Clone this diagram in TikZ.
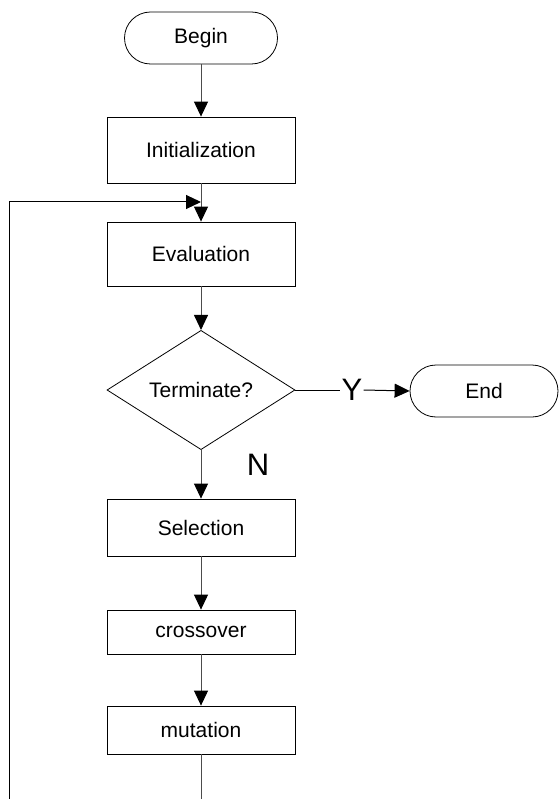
\documentclass[tikz,border=0pt]{standalone}
\usepackage{fontspec}
\setmainfont{Liberation Sans}
\usetikzlibrary{shapes.geometric,arrows.meta}
\begin{document}
\begin{tikzpicture}[x=1pt,y=-1pt,
  every node/.style={font=\fontsize{21}{25}\selectfont, text=black},
  procbox/.style={draw=black, line width=0.8pt, minimum width=188pt, minimum height=64pt, inner sep=0pt},
  termbox/.style={draw=black, line width=0.8pt, rounded corners=26pt, minimum height=52pt, inner sep=0pt},
  decbox/.style={draw=black, line width=0.8pt, diamond, minimum width=188pt, minimum height=112pt, inner sep=0pt},
  flow/.style={draw=black!70, line width=1pt, -{Triangle[length=15pt,width=14pt,color=black]}},
  plainline/.style={draw=black!70, line width=1pt},
  lbl/.style={font=\fontsize{31}{34}\selectfont}]
\useasboundingbox (0,0) rectangle (559,799);
\node[termbox, minimum width=153pt] (begin) at (201,38) {Begin};
\node[procbox, minimum height=66pt] (init) at (201,150) {Initialization};
\node[procbox] (eval) at (201,254) {Evaluation};
\node[decbox] (term) at (201,390) {Terminate?};
\node[termbox, minimum width=148pt] (end) at (484,391) {End};
\node[procbox, minimum height=57pt] (sel) at (201,527.5) {Selection};
\node[procbox, minimum height=44pt] (cross) at (201,632) {crossover};
\node[procbox, minimum height=48pt] (mut) at (201,730) {mutation};
\node[lbl, inner sep=1pt] (y) at (352,390) {Y};
\node[lbl] (n) at (258,465) {N};
\coordinate (merge) at (201,202);
\coordinate (mbottom) at (201,799);
\coordinate (lbottom) at (9.5,799);

\draw[flow] (begin) -- (init);
\draw[flow] (init) -- (eval);
\draw[flow] (eval) -- (term);
\draw[plainline, draw=black] (term.east) -- (y.west);
\draw[flow, draw=black] (y.east) -- (end.west);
\draw[flow] (term) -- (sel);
\draw[flow] (sel) -- (cross);
\draw[flow] (cross) -- (mut);
\draw[plainline] (mut) -- (mbottom);
\draw[flow, draw=black] (lbottom) |- (merge);
\end{tikzpicture}
\end{document}
